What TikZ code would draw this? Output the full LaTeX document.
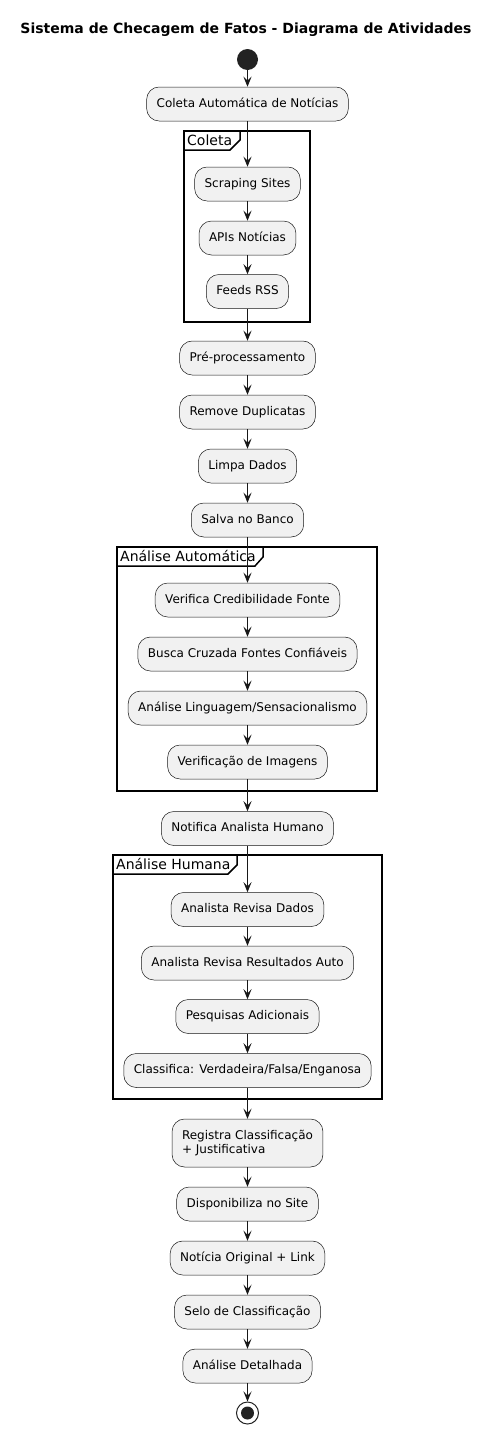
\documentclass[tikz,border=0pt]{standalone}
\usepackage{fontspec}
\setmainfont{DejaVu Sans}
\usetikzlibrary{arrows.meta}
\definecolor{boxfill}{HTML}{F1F1F1}
\definecolor{boxline}{HTML}{181818}
\definecolor{startc}{HTML}{222222}
\begin{document}
\begin{tikzpicture}[x=1pt,y=-1pt,
  actbase/.style={draw=boxline, line width=0.5pt, fill=boxfill, rounded corners=12.5pt,
    minimum height=34pt, inner xsep=10pt, font=\fontsize{12}{14.5}\selectfont},
  act/.style={actbase, text height=8.8pt, text depth=2.6pt},
  flow/.style={draw=boxline, line width=1pt, -{Stealth[length=10pt,width=8pt,inset=4pt]}},
  frm/.style={draw=black, line width=1.5pt},
  frmlabel/.style={anchor=base west, inner sep=0pt, font=\fontsize{14}{16}\selectfont}]
\useasboundingbox (0,0) rectangle (493,1435);
\fill[white] (0,0) rectangle (493,1435);

% title
\node[anchor=base, inner sep=0pt, font=\fontsize{14}{16}\selectfont\bfseries] (title) at (246,33)
  {Sistema de Checagem de Fatos - Diagrama de Atividades};

% frames
\draw[frm] (184,131) rectangle (310,322);
\draw[frm] (184,150) -- (230,150) -- (240,140) -- (240,131);
\node[frmlabel] (fcoleta) at (187,145.5) {Coleta};

\draw[frm] (117,547) rectangle (377,791);
\draw[frm] (117,566) -- (255,566) -- (263,557) -- (263,547);
\node[frmlabel] (fauto) at (120,561.5) {Análise Automática};

\draw[frm] (113,855) rectangle (382,1099);
\draw[frm] (113,874) -- (228,874) -- (237,865) -- (237,855);
\node[frmlabel] (fhum) at (116,869.5) {Análise Humana};

% start
\node[circle, fill=startc, minimum size=21pt, inner sep=0pt] (start) at (247.5,59.5) {};

% activities
\node[act] (n1) at (247.5,104) {Coleta Automática de Notícias};
\node[act] (c1) at (247.5,184) {Scraping Sites};
\node[act] (c2) at (247.5,238) {APIs Notícias};
\node[act] (c3) at (247.5,291.5) {Feeds RSS};
\node[act] (p1) at (247.5,358) {Pré-processamento};
\node[act] (p2) at (247.5,412) {Remove Duplicatas};
\node[act] (p3) at (247.5,466) {Limpa Dados};
\node[act] (p4) at (247.5,520) {Salva no Banco};
\node[act] (a1) at (247.5,600) {Verifica Credibilidade Fonte};
\node[act] (a2) at (247.5,654) {Busca Cruzada Fontes Confiáveis};
\node[act] (a3) at (247.5,708) {Análise Linguagem/Sensacionalismo};
\node[act] (a4) at (247.5,762) {Verificação de Imagens};
\node[act] (nh) at (247.5,828.5) {Notifica Analista Humano};
\node[act] (h1) at (247.5,909.5) {Analista Revisa Dados};
\node[act] (h2) at (247.5,963) {Analista Revisa Resultados Auto};
\node[act] (h3) at (247.5,1016.5) {Pesquisas Adicionais};
\node[act] (h4) at (247.5,1070.5) {Classifica: Verdadeira/Falsa/Enganosa};
\node[actbase, align=left, minimum height=48pt] (r1) at (247.5,1143) {Registra Classificação\\+ Justificativa};
\node[act] (r2) at (247.5,1204) {Disponibiliza no Site};
\node[act] (r3) at (247.5,1258) {Notícia Original + Link};
\node[act] (r4) at (247.5,1312) {Selo de Classificação};
\node[act] (r5) at (247.5,1366) {Análise Detalhada};

% end
\node[circle, draw=startc, line width=1pt, fill=white, minimum size=22pt, inner sep=0pt] (stop) at (247.5,1413) {};
\node[circle, fill=startc, minimum size=13pt, inner sep=0pt] (stopin) at (stop.center) {};

% flows
\draw[flow] (start.south) -- (n1.north);
\draw[flow] (n1.south) -- (c1.north);
\draw[flow] (c1.south) -- (c2.north);
\draw[flow] (c2.south) -- (c3.north);
\draw[flow] (c3.south) -- (p1.north);
\draw[flow] (p1.south) -- (p2.north);
\draw[flow] (p2.south) -- (p3.north);
\draw[flow] (p3.south) -- (p4.north);
\draw[flow] (p4.south) -- (a1.north);
\draw[flow] (a1.south) -- (a2.north);
\draw[flow] (a2.south) -- (a3.north);
\draw[flow] (a3.south) -- (a4.north);
\draw[flow] (a4.south) -- (nh.north);
\draw[flow] (nh.south) -- (h1.north);
\draw[flow] (h1.south) -- (h2.north);
\draw[flow] (h2.south) -- (h3.north);
\draw[flow] (h3.south) -- (h4.north);
\draw[flow] (h4.south) -- (r1.north);
\draw[flow] (r1.south) -- (r2.north);
\draw[flow] (r2.south) -- (r3.north);
\draw[flow] (r3.south) -- (r4.north);
\draw[flow] (r4.south) -- (r5.north);
\draw[flow] (r5.south) -- (stop.north);
\end{tikzpicture}
\end{document}
